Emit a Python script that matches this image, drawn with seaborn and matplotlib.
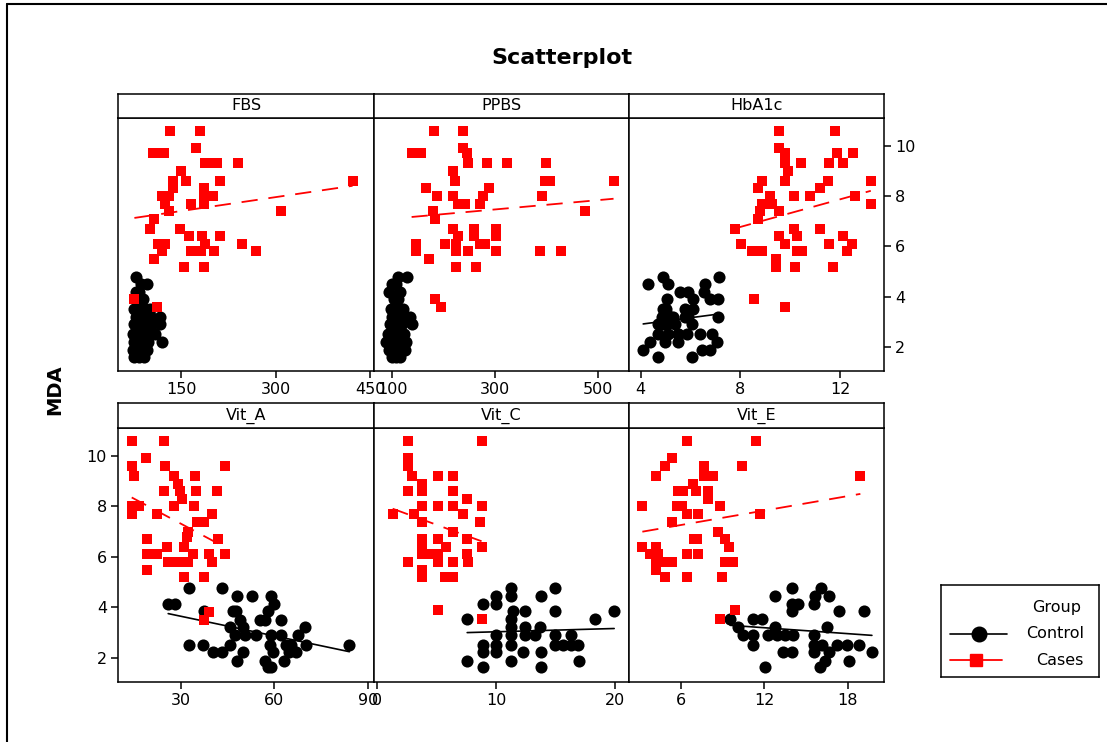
import numpy as np
import pandas as pd
import seaborn as sns
import matplotlib.pyplot as plt
from matplotlib.lines import Line2D

sns.set_theme(style="white")
plt.rcParams['font.family'] = ['DejaVu Sans']
plt.rcParams['text.color'] = 'black'
plt.rcParams['axes.labelcolor'] = 'black'
plt.rcParams['xtick.color'] = 'black'
plt.rcParams['ytick.color'] = 'black'


# DATA
fbs_case_x = [132, 180, 174, 106, 114, 123, 188, 199, 207, 241, 150, 137, 158, 211, 422, 137, 186,
              120, 131, 186, 201, 125, 165, 186, 131, 308, 107, 100, 148, 162, 183, 211, 114, 125,
              188, 247, 120, 166, 181, 203, 269, 107, 155, 186, 76, 112]
fbs_case_y = [10.6, 10.6, 9.9, 9.7, 9.7, 9.7, 9.3, 9.3, 9.3, 9.3, 9.0, 8.6, 8.6, 8.6, 8.6, 8.3, 8.3,
              8.0, 8.0, 8.0, 8.0, 7.7, 7.7, 7.7, 7.4, 7.4, 7.1, 6.7, 6.7, 6.4, 6.4, 6.4, 6.1, 6.1,
              6.1, 6.1, 5.8, 5.8, 5.8, 5.8, 5.8, 5.5, 5.2, 5.2, 3.9, 3.6]
fbs_ctrl_x = [78, 86, 96, 78, 84, 80, 90, 76, 82, 88, 94, 100, 78, 84, 92, 102, 117, 76, 82, 88, 96,
              104, 117, 74, 80, 86, 92, 100, 108, 76, 84, 90, 98, 119, 74, 80, 88, 96, 76, 84, 92]
fbs_ctrl_y = [4.8, 4.5, 4.5, 4.2, 4.2, 3.9, 3.9, 3.5, 3.5, 3.5, 3.5, 3.5, 3.2, 3.2, 3.2, 3.2, 3.2,
              2.9, 2.9, 2.9, 2.9, 2.9, 2.9, 2.5, 2.5, 2.5, 2.5, 2.5, 2.5, 2.2, 2.2, 2.2, 2.2, 2.2,
              1.9, 1.9, 1.9, 1.9, 1.6, 1.6, 1.6]

ppbs_case_x = [181, 237, 237, 138, 157, 245, 248, 285, 323, 399, 218, 222, 397, 407, 530, 166, 289,
               188, 218, 277, 391, 229, 242, 271, 180, 474, 184, 218, 259, 301, 229, 259, 301, 147,
               203, 225, 271, 280, 147, 225, 248, 301, 388, 428, 172, 225, 263, 184, 195]
ppbs_case_y = [10.6, 10.6, 9.9, 9.7, 9.7, 9.7, 9.3, 9.3, 9.3, 9.3, 9.0, 8.6, 8.6, 8.6, 8.6, 8.3, 8.3,
               8.0, 8.0, 8.0, 8.0, 7.7, 7.7, 7.7, 7.4, 7.4, 7.1, 6.7, 6.7, 6.7, 6.4, 6.4, 6.4, 6.1,
               6.1, 6.1, 6.1, 6.1, 5.8, 5.8, 5.8, 5.8, 5.8, 5.8, 5.5, 5.2, 5.2, 3.9, 3.6]
ppbs_ctrl_x = [112, 129, 99, 108, 115, 95, 104, 112, 98, 106, 114, 121, 100, 110, 118, 126, 134, 96,
               104, 112, 120, 138, 92, 100, 108, 116, 124, 89, 98, 106, 114, 128, 94, 104, 112, 125,
               100, 108, 116]
ppbs_ctrl_y = [4.8, 4.8, 4.5, 4.5, 4.2, 4.2, 3.9, 3.9, 3.5, 3.5, 3.5, 3.5, 3.2, 3.2, 3.2, 3.2, 3.2,
               2.9, 2.9, 2.9, 2.9, 2.9, 2.5, 2.5, 2.5, 2.5, 2.5, 2.2, 2.2, 2.2, 2.2, 2.2, 1.9, 1.9,
               1.9, 1.9, 1.6, 1.6, 1.6]

hba_case_x = [9.55, 11.8, 9.55, 9.79, 11.89, 12.5, 9.79, 10.42, 11.56, 12.13, 9.89, 8.86, 9.79, 11.5,
              13.23, 8.7, 11.2, 9.19, 10.13, 10.8, 12.58, 8.86, 9.26, 13.23, 8.79, 9.55, 8.7, 7.79,
              10.13, 11.2, 9.55, 10.26, 12.13, 8.01, 9.79, 11.56, 12.47, 8.45, 8.86, 10.26, 10.46,
              12.27, 9.42, 9.42, 10.19, 11.73, 8.56, 9.79]
hba_case_y = [10.6, 10.6, 9.9, 9.7, 9.7, 9.7, 9.3, 9.3, 9.3, 9.3, 9.0, 8.6, 8.6, 8.6, 8.6, 8.3, 8.3,
              8.0, 8.0, 8.0, 8.0, 7.7, 7.7, 7.7, 7.4, 7.4, 7.1, 6.7, 6.7, 6.7, 6.4, 6.4, 6.4, 6.1,
              6.1, 6.1, 6.1, 5.8, 5.8, 5.8, 5.8, 5.8, 5.5, 5.2, 5.2, 5.2, 3.9, 3.6]
hba_ctrl_x = [4.88, 7.14, 4.31, 5.08, 6.58, 5.58, 5.91, 6.52, 5.04, 6.11, 6.78, 7.09, 4.91, 5.78,
              6.11, 4.84, 5.2, 5.78, 7.12, 5.04, 5.38, 6.05, 4.7, 4.71, 5.11, 5.51, 5.85, 6.38, 6.85,
              4.37, 4.97, 5.51, 7.05, 6.45, 6.78, 4.1, 4.71, 6.05, 5.0, 5.3, 5.5, 5.9, 4.9]
hba_ctrl_y = [4.8, 4.8, 4.5, 4.5, 4.5, 4.2, 4.2, 4.2, 3.9, 3.9, 3.9, 3.9, 3.5, 3.5, 3.5, 3.2, 3.2,
              3.2, 3.2, 2.9, 2.9, 2.9, 2.9, 2.5, 2.5, 2.5, 2.5, 2.5, 2.5, 2.2, 2.2, 2.2, 2.2, 1.9,
              1.9, 1.9, 1.6, 1.6, 3.5, 3.2, 2.5, 3.2, 2.9]

vita_case_x = [14.3, 24.5, 18.8, 14.3, 25.0, 44.2, 15.1, 27.7, 34.6, 29.2, 29.8, 24.5, 34.9, 41.7,
               30.3, 14.3, 16.5, 27.7, 34.3, 14.3, 22.5, 39.9, 35.1, 37.5, 32.5, 32.0, 19.3, 42.0,
               31.0, 25.5, 19.3, 22.5, 33.8, 39.2, 44.2, 26.0, 28.2, 30.3, 32.5, 39.9, 19.3, 31.0,
               37.5, 37.5, 39.2]
vita_case_y = [10.6, 10.6, 9.9, 9.6, 9.6, 9.6, 9.2, 9.2, 9.2, 8.9, 8.6, 8.6, 8.6, 8.6, 8.3, 8.0,
               8.0, 8.0, 8.0, 7.7, 7.7, 7.7, 7.4, 7.4, 7.0, 6.8, 6.7, 6.7, 6.4, 6.4, 6.1, 6.1, 6.1,
               6.1, 6.1, 5.8, 5.8, 5.8, 5.8, 5.8, 5.5, 5.2, 5.2, 3.5, 3.8]
vita_ctrl_x = [32.7, 43.3, 48.2, 52.9, 59.0, 26.0, 28.2, 60.0, 37.5, 46.8, 47.9, 58.0, 48.9, 55.3,
               56.9, 62.3, 45.8, 50.0, 69.8, 47.4, 50.6, 54.3, 59.1, 62.3, 67.6, 32.7, 37.0, 45.8,
               58.6, 63.9, 65.5, 70.3, 84.1, 40.4, 43.1, 50.0, 59.6, 64.9, 67.0, 48.2, 57.2, 63.0,
               58.0, 59.0]
vita_ctrl_y = [4.75, 4.75, 4.44, 4.44, 4.44, 4.14, 4.14, 4.14, 3.85, 3.85, 3.85, 3.85, 3.52, 3.52,
               3.52, 3.52, 3.21, 3.21, 3.21, 2.9, 2.9, 2.9, 2.9, 2.9, 2.9, 2.53, 2.53, 2.53, 2.53,
               2.53, 2.53, 2.53, 2.53, 2.22, 2.22, 2.22, 2.22, 2.22, 2.22, 1.9, 1.9, 1.9, 1.63, 1.63]

vitc_case_x = [2.6, 8.78, 2.6, 2.6, 2.9, 5.08, 6.34, 3.73, 3.73, 6.34, 2.6, 7.52, 3.73, 5.08, 6.34,
               8.78, 1.29, 3.11, 7.18, 3.73, 8.64, 6.34, 3.73, 5.08, 7.52, 3.73, 5.78, 8.78, 3.73,
               4.57, 5.08, 7.52, 2.6, 5.08, 6.34, 7.66, 3.73, 3.73, 5.7, 6.34, 5.08, 8.78]
vitc_case_y = [10.6, 10.6, 9.9, 9.6, 9.2, 9.2, 9.2, 8.9, 8.6, 8.6, 8.6, 8.3, 8.0, 8.0, 8.0, 8.0,
               7.7, 7.7, 7.7, 7.4, 7.4, 7.0, 6.7, 6.7, 6.7, 6.4, 6.4, 6.4, 6.1, 6.1, 6.1, 6.1, 5.8,
               5.8, 5.8, 5.8, 5.5, 5.2, 5.2, 5.2, 3.9, 3.55]
vitc_ctrl_x = [11.3, 15.0, 10.0, 11.3, 13.75, 8.9, 10.0, 11.45, 12.4, 15.0, 19.95, 7.57, 18.3, 11.3,
               11.3, 12.4, 13.7, 10.0, 11.3, 12.4, 13.27, 15.0, 16.35, 8.9, 10.0, 11.3, 15.0, 15.65,
               16.35, 16.9, 8.9, 10.0, 12.28, 13.75, 7.57, 11.3, 17.0, 8.9, 13.75]
vitc_ctrl_y = [4.75, 4.75, 4.44, 4.44, 4.44, 4.14, 4.14, 3.85, 3.85, 3.85, 3.85, 3.55, 3.55, 3.55,
               3.21, 3.21, 3.21, 2.9, 2.9, 2.9, 2.9, 2.9, 2.9, 2.53, 2.53, 2.53, 2.53, 2.53, 2.53,
               2.53, 2.22, 2.22, 2.22, 2.22, 1.9, 1.9, 1.9, 1.63, 1.63]

vite_case_x = [6.41, 11.4, 5.33, 4.85, 10.42, 7.66, 4.18, 7.66, 8.33, 18.9, 6.84, 5.8, 6.17, 7.08,
               7.92, 7.92, 3.22, 5.7, 6.05, 8.8, 6.41, 7.25, 11.69, 5.33, 8.64, 9.17, 6.94, 7.13,
               3.22, 4.18, 9.48, 3.77, 4.37, 6.41, 7.25, 4.18, 4.85, 5.33, 9.17, 9.77, 4.18, 4.85,
               6.41, 8.93, 9.89, 8.8]
vite_case_y = [10.6, 10.6, 9.9, 9.6, 9.6, 9.6, 9.2, 9.2, 9.2, 9.2, 8.9, 8.6, 8.6, 8.6, 8.6, 8.3,
               8.0, 8.0, 8.0, 8.0, 7.7, 7.7, 7.7, 7.4, 7.0, 6.7, 6.7, 6.7, 6.4, 6.4, 6.4, 6.1, 6.1,
               6.1, 6.1, 5.8, 5.8, 5.8, 5.8, 5.8, 5.5, 5.2, 5.2, 5.2, 3.9, 3.55]
vite_ctrl_x = [13.97, 16.08, 12.77, 15.65, 16.66, 13.97, 14.45, 15.53, 13.97, 17.33, 19.13, 9.53,
               11.16, 11.81, 10.13, 12.77, 16.49, 10.49, 11.16, 12.29, 12.89, 13.49, 14.09, 15.53,
               11.16, 15.53, 16.13, 17.21, 17.93, 18.77, 13.37, 13.97, 15.53, 16.61, 19.73, 16.37,
               18.05, 12.05, 16.01]
vite_ctrl_y = [4.75, 4.75, 4.44, 4.44, 4.44, 4.14, 4.14, 4.14, 3.85, 3.85, 3.85, 3.55, 3.55, 3.55,
               3.21, 3.21, 3.21, 2.9, 2.9, 2.9, 2.9, 2.9, 2.9, 2.9, 2.53, 2.53, 2.53, 2.53, 2.53,
               2.53, 2.22, 2.22, 2.22, 2.22, 2.22, 1.9, 1.9, 1.63, 1.63]

panel_names = ["FBS", "PPBS", "HbA1c", "Vit_A", "Vit_C", "Vit_E"]
panel_xticks = [[150, 300, 450], [100, 300, 500], [4, 8, 12],
                [30, 60, 90], [0, 10, 20], [6, 12, 18]]
panel_xlims = [(50, 456), (65, 560), (3.53, 13.76), (9.9, 92), (-0.28, 21.2), (2.26, 20.6)]
panel_data = [
    (fbs_ctrl_x, fbs_ctrl_y, fbs_case_x, fbs_case_y),
    (ppbs_ctrl_x, ppbs_ctrl_y, ppbs_case_x, ppbs_case_y),
    (hba_ctrl_x, hba_ctrl_y, hba_case_x, hba_case_y),
    (vita_ctrl_x, vita_ctrl_y, vita_case_x, vita_case_y),
    (vitc_ctrl_x, vitc_ctrl_y, vitc_case_x, vitc_case_y),
    (vite_ctrl_x, vite_ctrl_y, vite_case_x, vite_case_y),
]
y_ticks = [2, 4, 6, 8, 10]
groups = ["Control", "Cases"]


# LAYOUT (pixels)
W, H = 1107, 742
COL_EDGES = [118, 374, 629, 884]
ROWS = [(94, 118, 371), (403, 428, 682)]   # strip top, plot top, plot bottom
LW = 1.1

fig = plt.figure(figsize=(W / 100, H / 100), dpi=100)
fig.patch.set_facecolor("white")


def px_axes(x0, y0, x1, y1):
    return fig.add_axes([x0 / W, 1 - y1 / H, (x1 - x0) / W, (y1 - y0) / H])


def frame(ax):
    for sp in ax.spines.values():
        sp.set_visible(True)
        sp.set_color("black")
        sp.set_linewidth(LW)
    ax.set_facecolor("white")


for i, name in enumerate(panel_names):
    r, c = divmod(i, 3)
    s_top, p_top, p_bot = ROWS[r]
    x0, x1 = COL_EDGES[c], COL_EDGES[c + 1]

    ax = px_axes(x0, p_top, x1, p_bot)
    frame(ax)
    cx, cy, kx, ky = panel_data[i]

    sns.regplot(x=np.array(cx), y=np.array(cy), ax=ax, ci=None, color="black", marker="o",
                scatter_kws={"s": 76, "linewidths": 0, "alpha": 1, "zorder": 2},
                line_kws={"lw": 1.2, "zorder": 3})
    sns.regplot(x=np.array(kx), y=np.array(ky), ax=ax, ci=None, color="red", marker="s",
                scatter_kws={"s": 52, "linewidths": 0, "alpha": 1, "zorder": 4},
                line_kws={"lw": 1.3, "ls": (0, (9, 6)), "zorder": 5})

    ax.set_xlim(*panel_xlims[i])
    ax.set_ylim(1.05, 11.1)
    ax.set_xticks(panel_xticks[i])
    ax.set_xlabel("")
    ax.set_ylabel("")
    ax.tick_params(axis="both", direction="out", length=5, width=LW, color="black",
                   labelsize=11.5, labelcolor="black", pad=3)
    ax.tick_params(axis="x", bottom=True)
    ax.set_yticks(y_ticks)
    if r == 0 and c == 2:
        ax.yaxis.tick_right()
        ax.tick_params(axis="y", right=True, labelright=True, left=False, labelleft=False)
    elif r == 1 and c == 0:
        ax.tick_params(axis="y", left=True, labelleft=True)
    else:
        ax.tick_params(axis="y", left=False, labelleft=False, right=False, labelright=False)

    sax = px_axes(x0, s_top, x1, p_top)
    frame(sax)
    sax.set_xticks([])
    sax.set_yticks([])
    sax.text(0.5, 0.5, name, ha="center", va="center", fontsize=11.5, color="black",
             transform=sax.transAxes)

# titles
fig.text(562 / W, 1 - 58 / H, "Scatterplot", ha="center", va="center",
         fontsize=16, fontweight="bold", color="black")
fig.text(55 / W, 1 - 390 / H, "MDA", ha="center", va="center", rotation=90,
         fontsize=14, fontweight="bold", color="black")

# legend box
lax = px_axes(941, 585, 1099, 677)
frame(lax)
lax.set_xlim(0, 1)
lax.set_ylim(0, 1)
lax.set_xticks([])
lax.set_yticks([])
lax.text(0.89, 0.76, "Group", ha="right", va="center", fontsize=11.5, color="black")
lax.add_line(Line2D([0.06, 0.42], [0.47, 0.47], color="black", lw=1.2))
lax.add_line(Line2D([0.24], [0.47], color="black", marker="o", ms=10.5, lw=0))
lax.text(0.905, 0.47, groups[0], ha="right", va="center", fontsize=11.5, color="black")
lax.add_line(Line2D([0.06, 0.385], [0.18, 0.18], color="red", lw=1.3))
lax.add_line(Line2D([0.22], [0.18], color="red", marker="s", ms=9, lw=0))
lax.text(0.905, 0.18, groups[1], ha="right", va="center", fontsize=11.5, color="black")

# outer frame (left and top edges)
fig.add_artist(Line2D([7 / W, 7 / W], [0, 1 - 4 / H], transform=fig.transFigure,
                      color="black", lw=1.5))
fig.add_artist(Line2D([7 / W, 1], [1 - 4 / H, 1 - 4 / H], transform=fig.transFigure,
                      color="black", lw=1.5))

fig.savefig("out.png", dpi=100, facecolor="white")
